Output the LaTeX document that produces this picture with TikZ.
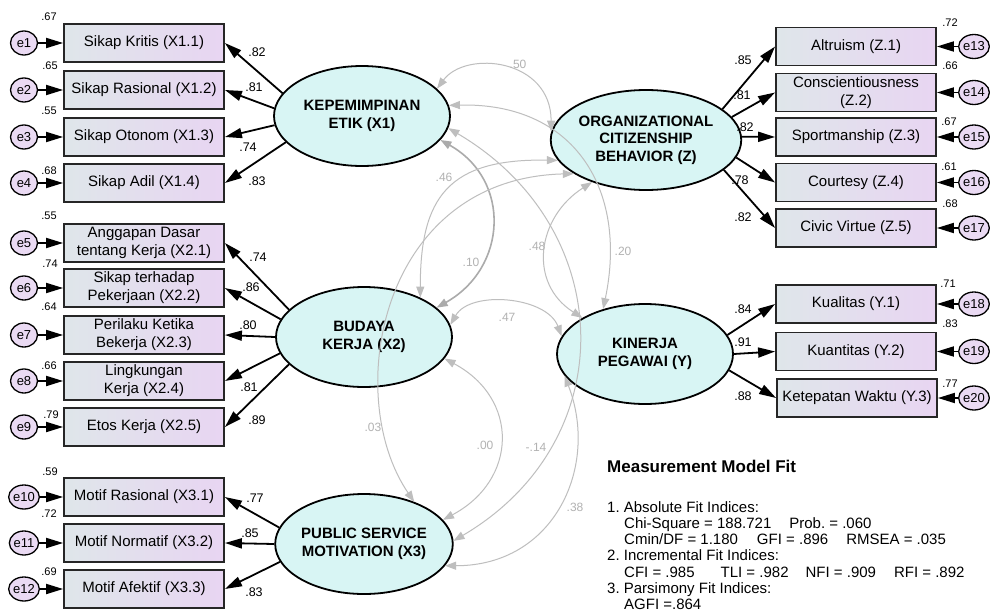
\documentclass[tikz,border=0pt]{standalone}
\usepackage{fontspec}
\setmainfont{Liberation Sans}
\usepackage{tikz}
\usetikzlibrary{arrows.meta,shapes.geometric}
\definecolor{LatentCyan}{HTML}{D8F5F4}
\definecolor{BoxBlue}{HTML}{DFE6EA}
\definecolor{BoxLilac}{HTML}{E8D5F2}
\definecolor{ErrLilac}{HTML}{EADAF3}
\definecolor{CovGray}{HTML}{BEBEBE}
\definecolor{CovText}{HTML}{B2B2B2}
\frenchspacing

\begin{document}
\begin{tikzpicture}[x=1pt,y=-1pt,
  latent/.style={ellipse,draw,line width=1.8pt,fill=LatentCyan,minimum width=176pt,
                 minimum height=100pt,inner sep=0pt,align=center,
                 font=\fontsize{15}{17.5}\selectfont\bfseries},
  indic/.style={rectangle,draw=black!85,line width=1.8pt,left color=BoxBlue,right color=BoxLilac,
                minimum width=160pt,minimum height=38pt,inner sep=0pt,align=center,
                font=\fontsize{15}{18}\selectfont},
  err/.style={ellipse,draw,line width=1.3pt,fill=ErrLilac,minimum width=27pt,minimum height=24pt,
              inner sep=0pt,font=\fontsize{13}{13}\selectfont},
  load/.style={-{Triangle[length=17pt,width=10pt]},line width=1.8pt},
  cov/.style={{Triangle[length=11pt,width=8pt]}-{Triangle[length=11pt,width=8pt]},
              draw=CovGray,line width=1pt},
  coef/.style={inner sep=0pt,font=\fontsize{12.5}{12.5}\selectfont},
  smc/.style={inner sep=0pt,font=\fontsize{11}{11}\selectfont},
  covlab/.style={inner sep=0pt,text=CovText,font=\fontsize{12}{12}\selectfont}
]
  \path[use as bounding box,fill=white] (0,0) rectangle (990,613);

  \node[latent] (X1) at (362,116) {KEPEMIMPINAN\\ETIK (X1)};
  \node[latent] (X2) at (364,337) {BUDAYA\\KERJA (X2)};
  \node[latent] (X3) at (364,544) {PUBLIC SERVICE\\MOTIVATION (X3)};
  \node[latent] (Z) at (646,140) {ORGANIZATIONAL\\CITIZENSHIP\\BEHAVIOR (Z)};
  \node[latent] (Y) at (645,354) {KINERJA\\PEGAWAI (Y)};

  \node[indic] (b11) at (144,43) {Sikap Kritis (X1.1)};
  \node[indic] (b12) at (144,90) {Sikap Rasional (X1.2)};
  \node[indic] (b13) at (144,137) {Sikap Otonom (X1.3)};
  \node[indic] (b14) at (144,183) {Sikap Adil (X1.4)};
  \node[indic] (b21) at (144,243) {Anggapan Dasar\\tentang Kerja (X2.1)};
  \node[indic] (b22) at (144,288) {Sikap terhadap\\Pekerjaan (X2.2)};
  \node[indic] (b23) at (144,335) {Perilaku Ketika\\Bekerja (X2.3)};
  \node[indic] (b24) at (144,381) {Lingkungan\\Kerja (X2.4)};
  \node[indic] (b25) at (144,427) {Etos Kerja (X2.5)};
  \node[indic] (b31) at (144,497) {Motif Rasional (X3.1)};
  \node[indic] (b32) at (144,543) {Motif Normatif (X3.2)};
  \node[indic] (b33) at (144,589) {Motif Afektif (X3.3)};
  \node[indic] (bz1) at (856,46.5) {Altruism (Z.1)};
  \node[indic] (bz2) at (856,92.5) {Conscientiousness\\(Z.2)};
  \node[indic] (bz3) at (856,137) {Sportmanship (Z.3)};
  \node[indic] (bz4) at (856,182.5) {Courtesy (Z.4)};
  \node[indic] (bz5) at (856,228) {Civic Virtue (Z.5)};
  \node[indic] (by1) at (856,304) {Kualitas (Y.1)};
  \node[indic] (by2) at (856,351.5) {Kuantitas (Y.2)};
  \node[indic] (by3) at (857,398) {Ketepatan Waktu (Y.3)};

  \node[err] (e1) at (24,43) {e1};
  \node[err] (e2) at (24,90) {e2};
  \node[err] (e3) at (24,137) {e3};
  \node[err] (e4) at (24,183) {e4};
  \node[err] (e5) at (24,243) {e5};
  \node[err] (e6) at (24,288) {e6};
  \node[err] (e7) at (24,335) {e7};
  \node[err] (e8) at (24,381) {e8};
  \node[err] (e9) at (24,427) {e9};
  \node[err] (e10) at (24,497) {e10};
  \node[err] (e11) at (24,543) {e11};
  \node[err] (e12) at (24,589) {e12};
  \node[err] (e13) at (974,46.5) {e13};
  \node[err] (e14) at (974,92.5) {e14};
  \node[err] (e15) at (974,137) {e15};
  \node[err] (e16) at (974,182.5) {e16};
  \node[err] (e17) at (974,228) {e17};
  \node[err] (e18) at (974,304) {e18};
  \node[err] (e19) at (974,351.5) {e19};
  \node[err] (e20) at (974,398) {e20};

  \foreach \e/\b in {e1/b11,e2/b12,e3/b13,e4/b14,e5/b21,e6/b22,e7/b23,e8/b24,e9/b25,
                     e10/b31,e11/b32,e12/b33,e13/bz1,e14/bz2,e15/bz3,e16/bz4,e17/bz5,
                     e18/by1,e19/by2,e20/by3}
    \draw[load] (\e) -- (\b);

  \foreach \a/\b in {164/b11,175/b12,186/b13,199/b14}
    \draw[load] (X1.\a) -- (\b.east);
  \foreach \a/\b in {160/b21,168/b22,180/b23,191/b24,200/b25}
    \draw[load] (X2.\a) -- (\b.east);
  \foreach \a/\b in {169/b31,180/b32,192/b33}
    \draw[load] (X3.\a) -- (\b.east);
  \foreach \a/\b in {22/bz1,15/bz2,2/bz3,-11/bz4,-21/bz5}
    \draw[load] (Z.\a) -- (\b.west);
  \foreach \a/\b in {13/by1,0/by2,-11/by3}
    \draw[load] (Y.\a) -- (\b.west);

  \node[coef] (l11) at (257,52) {.82};
  \node[coef] (l12) at (254,87) {.81};
  \node[coef] (l13) at (248,147) {.74};
  \node[coef] (l14) at (257,181) {.83};
  \node[coef] (l21) at (258,257) {.74};
  \node[coef] (l22) at (251,287) {.86};
  \node[coef] (l23) at (248,325) {.80};
  \node[coef] (l24) at (249,387) {.81};
  \node[coef] (l25) at (257,420) {.89};
  \node[coef] (l31) at (255,498) {.77};
  \node[coef] (l32) at (250,533) {.85};
  \node[coef] (l33) at (254,592) {.83};
  \node[coef] (lz1) at (743,60) {.85};
  \node[coef] (lz2) at (742,95) {.81};
  \node[coef] (lz3) at (745,127) {.82};
  \node[coef] (lz4) at (740,180) {.78};
  \node[coef] (lz5) at (743,217) {.82};
  \node[coef] (ly1) at (743,309) {.84};
  \node[coef] (ly2) at (743,342) {.91};
  \node[coef] (ly3) at (743,396) {.88};

  \node[smc] (r1) at (49,17) {.67};
  \node[smc] (r2) at (50,66) {.65};
  \node[smc] (r3) at (49,111) {.55};
  \node[smc] (r4) at (49,171) {.68};
  \node[smc] (r5) at (49,216) {.55};
  \node[smc] (r6) at (50,264) {.74};
  \node[smc] (r7) at (49,307) {.64};
  \node[smc] (r8) at (49,366) {.66};
  \node[smc] (r9) at (51,415) {.79};
  \node[smc] (r10) at (50,472) {.59};
  \node[smc] (r11) at (49,514) {.72};
  \node[smc] (r12) at (49,572) {.69};
  \node[smc] (r13) at (950,23) {.72};
  \node[smc] (r14) at (950,66) {.66};
  \node[smc] (r15) at (949,122) {.67};
  \node[smc] (r16) at (949,167) {.61};
  \node[smc] (r17) at (950,204) {.68};
  \node[smc] (r18) at (948,284) {.71};
  \node[smc] (r19) at (950,324) {.83};
  \node[smc] (r20) at (950,384) {.77};

  \draw[cov] (X1.20) .. controls +(29,-39) and +(0,-73) .. (Z.175);
  \draw[cov,line width=1.6pt,draw=CovGray!90!black] (X1.-17) .. controls +(71,40) and +(71,-40) .. (X2.22);
  \draw[cov] (X1.-8) .. controls +(170,100) and +(170,-100) .. (X3.2);
  \draw[cov] (X1.7) .. controls +(125,-3) and +(25,-120) .. (Y.133);
  \draw[cov] (X2.35) .. controls +(0,-100) and +(-110,-2) .. (Z.193);
  \draw[cov] (Z.205) .. controls +(-195,5) and +(-72,-105) .. (X3.40);
  \draw[cov] (Z.218) .. controls +(-55,35) and +(-55,-35) .. (Y.150);
  \draw[cov] (X2.8) .. controls +(20,-35) and +(-15,-40) .. (Y.168);
  \draw[cov] (X2.-15) .. controls +(75,40) and +(75,-40) .. (X3.17);
  \draw[cov] (Y.195) .. controls +(35,90) and +(110,0) .. (X3.-15);

  \node[covlab] (c1) at (518,64) {.50};
  \node[covlab] (c2) at (444,177) {.46};
  \node[covlab] (c3) at (471,262) {.10};
  \node[covlab] (c4) at (537,246) {.48};
  \node[covlab] (c5) at (623,251) {.20};
  \node[covlab] (c6) at (507,317) {.47};
  \node[covlab] (c7) at (373,427) {.03};
  \node[covlab] (c8) at (485,445) {.00};
  \node[covlab] (c9) at (536,447) {-.14};
  \node[covlab] (c10) at (575,507) {.38};

  \node[anchor=west,inner sep=0pt,font=\fontsize{17}{17}\selectfont\bfseries] (fittitle)
    at (607,466) {Measurement Model Fit};
  \node[anchor=north west,inner sep=0pt,align=left,font=\fontsize{15}{16.3}\selectfont] (fitbody)
    at (607,501) {1. Absolute Fit Indices:\\
     \hspace*{17pt}Chi-Square = 188.721\hspace{18pt}Prob. = .060\\
     \hspace*{17pt}Cmin/DF = 1.180\hspace{19pt}GFI = .896\hspace{18pt}RMSEA = .035\\
     2. Incremental Fit Indices:\\
     \hspace*{17pt}CFI = .985\hspace{26pt}TLI = .982\hspace{17pt}NFI = .909\hspace{18pt}RFI = .892\\
     3. Parsimony Fit Indices:\\
     \hspace*{17pt}AGFI =.864};
\end{tikzpicture}
\end{document}
